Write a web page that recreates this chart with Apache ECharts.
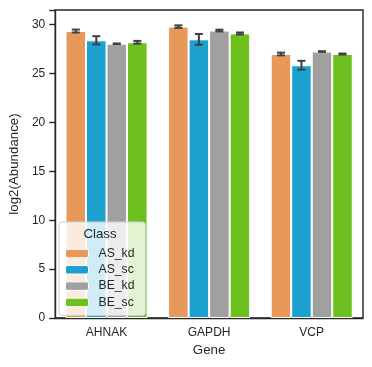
<!DOCTYPE html>
<html><head><meta charset="utf-8">
<script src="https://cdn.jsdelivr.net/npm/echarts@6/dist/echarts.min.js"></script>
<style>html,body{margin:0;padding:0;background:#fff}#c{width:372px;height:367px}</style>
</head><body><div id="c"></div>
<script>
const categories = ['AHNAK', 'GAPDH', 'VCP'];
const classes = ['AS_kd', 'AS_sc', 'BE_kd', 'BE_sc'];
const AS_kd = [29.35, 29.8, 27.0];
const AS_sc = [28.4, 28.5, 25.85];
const BE_kd = [28.05, 29.4, 27.25];
const BE_sc = [28.2, 29.1, 27.0];
const AS_kd_err = [0.15, 0.13, 0.14];
const AS_sc_err = [0.42, 0.55, 0.45];
const BE_kd_err = [0.03, 0.09, 0.03];
const BE_sc_err = [0.14, 0.10, 0.05];
const yTicks = [0, 5, 10, 15, 20, 25, 30];

const values = [AS_kd, AS_sc, BE_kd, BE_sc];
const errs = [AS_kd_err, AS_sc_err, BE_kd_err, BE_sc_err];
const colors = ['#E8995A', '#1CA0CF', '#A0A0A0', '#6DC01E'];
const font = 'Liberation Sans, Arial, sans-serif';
const ink = '#262626';

const chart = echarts.init(document.getElementById('c'), null, {renderer: 'canvas'});
const series = [];
classes.forEach((name, i) => {
  series.push({
    name: name, type: 'bar', data: values[i],
    barGap: '0%', barCategoryGap: '20%',
    itemStyle: {color: colors[i], borderColor: '#ffffff', borderWidth: 1},
    emphasis: {disabled: true}
  });
});
classes.forEach((name, i) => {
  series.push({
    type: 'custom', name: name + '_err', silent: true, z: 5,
    data: categories.map((c, j) => [j, values[i][j], errs[i][j]]),
    renderItem: function (params, api) {
      const j = api.value(0), v = api.value(1), e = api.value(2);
      const band = api.size([1, 0])[0];
      const off = (i - 1.5) * 0.2 * band;
      const hi = api.coord([j, v + e]);
      const lo = api.coord([j, v - e]);
      const x = hi[0] + off;
      const cw = 4;
      const st = {stroke: '#3f3f3f', lineWidth: 2};
      return {type: 'group', children: [
        {type: 'line', shape: {x1: x, y1: hi[1], x2: x, y2: lo[1]}, style: st},
        {type: 'line', shape: {x1: x - cw, y1: hi[1], x2: x + cw, y2: hi[1]}, style: st},
        {type: 'line', shape: {x1: x - cw, y1: lo[1], x2: x + cw, y2: lo[1]}, style: st}
      ]};
    }
  });
});

chart.setOption({
  animation: false,
  backgroundColor: '#ffffff',
  grid: {left: 53, right: 9, top: 10, bottom: 49, show: true, borderColor: ink, borderWidth: 1.4, backgroundColor: 'transparent'},
  graphic: [{
    type: 'text', x: 100, y: 234, z: 100,
    style: {text: 'Class', fontFamily: font, fontSize: 13.3, fill: ink, align: 'center', verticalAlign: 'middle'}
  }],
  legend: {
    data: classes, orient: 'vertical', left: 59, top: 222,
    padding: [24.5, 11, 6, 6], itemGap: 2.3, itemWidth: 23, itemHeight: 8.5,
    backgroundColor: 'rgba(255,255,255,0.8)', borderColor: '#d0d0d0', borderWidth: 1, borderRadius: 3,
    textStyle: {fontFamily: font, fontSize: 12.2, lineHeight: 14, color: ink, padding: [0, 0, 0, 5]},
    itemStyle: {borderColor: '#ffffff', borderWidth: 1},
    selectedMode: false
  },
  xAxis: {
    type: 'category', data: categories,
    name: 'Gene', nameLocation: 'middle', nameGap: 24,
    nameTextStyle: {fontFamily: font, fontSize: 13.3, color: ink},
    axisLine: {lineStyle: {color: ink, width: 1.4}},
    axisTick: {alignWithLabel: true, length: 6, lineStyle: {color: ink, width: 1.4}},
    axisLabel: {fontFamily: font, fontSize: 12, color: ink, margin: 9}
  },
  yAxis: {
    type: 'value', min: 0, max: 31.5, interval: 5,
    name: 'log2(Abundance)', nameLocation: 'middle', nameGap: 30,
    nameTextStyle: {fontFamily: font, fontSize: 13.3, color: ink},
    axisLine: {show: true, lineStyle: {color: ink, width: 1.4}},
    axisTick: {show: true, length: 6, lineStyle: {color: ink, width: 1.4}},
    splitLine: {show: false},
    axisLabel: {fontFamily: font, fontSize: 12, color: ink, margin: 10,
      formatter: v => yTicks.includes(v) ? String(v) : ''}
  },
  series: series
});
</script></body></html>
